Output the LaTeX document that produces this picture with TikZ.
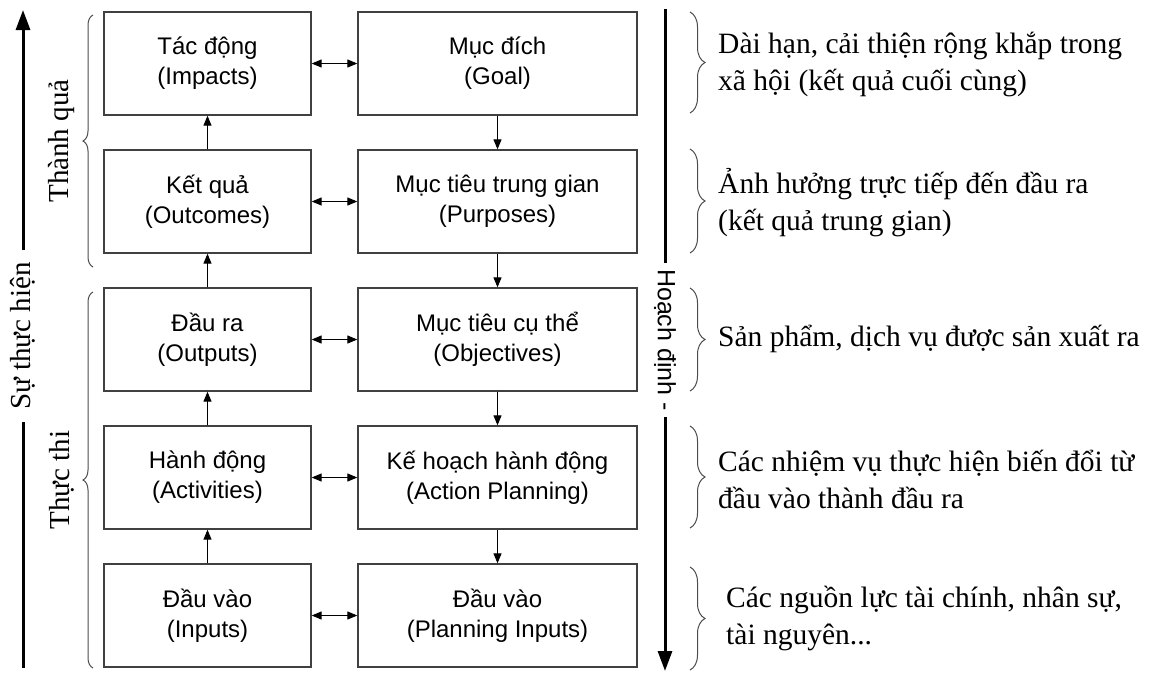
\documentclass[tikz,border=0pt]{standalone}
\usepackage{fontspec}
\setmainfont{Liberation Serif}
\setsansfont{Liberation Sans}
\usetikzlibrary{arrows.meta,decorations.pathreplacing}
\begin{document}
\begin{tikzpicture}[x=1pt,y=-1pt,
 box/.style={draw=black!75, line width=1.3pt, minimum height=103pt, inner sep=0pt, align=center, font=\sffamily\fontsize{24}{30}\selectfont},
 lbox/.style={box, minimum width=207pt},
 rbox/.style={box, minimum width=279pt},
 conn/.style={line width=1pt, -{Triangle[length=10pt,width=8pt]}},
 biconn/.style={line width=1pt, {Triangle[length=10pt,width=8pt]}-{Triangle[length=10pt,width=8pt]}},
 big/.style={line width=3pt},
 bigtip/.style={big, -{Triangle[length=20pt,width=14pt]}},
 rbrace/.style={decorate, decoration={brace, amplitude=15pt}, draw=black!70, line width=1pt},
 lbrace/.style={decorate, decoration={brace, amplitude=10pt}, draw=black!70, line width=1pt},
 desc/.style={anchor=west, align=left, inner sep=0pt, font=\fontsize{29.5}{37}\selectfont},
 side/.style={rotate=90, font=\fontsize{29}{32}\selectfont, inner ysep=0pt}
]
\useasboundingbox (0,0) rectangle (1152,673);

% boxes
\node[lbox] (l1) at (207.5,63.5) {Tác động\\(Impacts)};
\node[lbox] (l2) at (207.5,201.5) {Kết quả\\(Outcomes)};
\node[lbox] (l3) at (207.5,339.5) {Đầu ra\\(Outputs)};
\node[lbox] (l4) at (207.5,477.5) {Hành động\\(Activities)};
\node[lbox] (l5) at (207.5,615.5) {Đầu vào\\(Inputs)};
\node[rbox] (r1) at (497.5,63.5) {Mục đích\\(Goal)};
\node[rbox] (r2) at (497.5,201.5) {Mục tiêu trung gian\\(Purposes)};
\node[rbox] (r3) at (497.5,339.5) {Mục tiêu cụ thể\\(Objectives)};
\node[rbox] (r4) at (497.5,477.5) {Kế hoạch hành động\\(Action Planning)};
\node[rbox] (r5) at (497.5,615.5) {Đầu vào\\(Planning Inputs)};

% connectors
\draw[conn] (l2.north) -- (l1.south);
\draw[conn] (l3.north) -- (l2.south);
\draw[conn] (l4.north) -- (l3.south);
\draw[conn] (l5.north) -- (l4.south);
\draw[conn] (r1.south) -- (r2.north);
\draw[conn] (r2.south) -- (r3.north);
\draw[conn] (r3.south) -- (r4.north);
\draw[conn] (r4.south) -- (r5.north);
\draw[biconn] (l1.east) -- (r1.west);
\draw[biconn] (l2.east) -- (r2.west);
\draw[biconn] (l3.east) -- (r3.west);
\draw[biconn] (l4.east) -- (r4.west);
\draw[biconn] (l5.east) -- (r5.west);

% left big arrow
\node[side, inner xsep=12pt] (sth) at (23,336) {Sự thực hiện};
\coordinate (ltop) at (23,10);
\coordinate (lbot) at (23,668);
\draw[bigtip] (sth.east) -- (ltop);
\draw[big] (lbot) -- (sth.west);

% middle big arrow
\node[rotate=-90, font=\sffamily\fontsize{25}{28}\selectfont, inner xsep=6pt, inner ysep=0pt] (hd) at (665,340) {Hoạch định -};
\coordinate (mtop) at (665,9);
\coordinate (mbot) at (665,671);
\draw[big] (mtop) -- (hd.west);
\draw[bigtip] (hd.east) -- (mbot);

% left braces and labels
\draw[lbrace] (93,267) -- (93,15);
\draw[lbrace] (93,668) -- (93,292);
\node[side, inner xsep=0pt] (tq) at (62,141) {Thành quả};
\node[side, inner xsep=0pt] (tt) at (62,480) {Thực thi};

% right braces
\draw[rbrace] (690,12) -- (690,113);
\draw[rbrace] (690,149) -- (690,253);
\draw[rbrace] (690,288) -- (690,391);
\draw[rbrace] (690,426) -- (690,528);
\draw[rbrace] (690,567) -- (690,670);

% right descriptions
\node[desc] (d1) at (718,64) {Dài hạn, cải thiện rộng khắp trong\\xã hội (kết quả cuối cùng)};
\node[desc] (d2) at (718,203) {Ảnh hưởng trực tiếp đến đầu ra\\(kết quả trung gian)};
\node[desc] (d3) at (718,339) {Sản phẩm, dịch vụ được sản xuất ra};
\node[desc] (d4) at (718,479) {Các nhiệm vụ thực hiện biến đổi từ\\đầu vào thành đầu ra};
\node[desc] (d5) at (726,618) {Các nguồn lực tài chính, nhân sự,\\tài nguyên...};
\end{tikzpicture}
\end{document}
